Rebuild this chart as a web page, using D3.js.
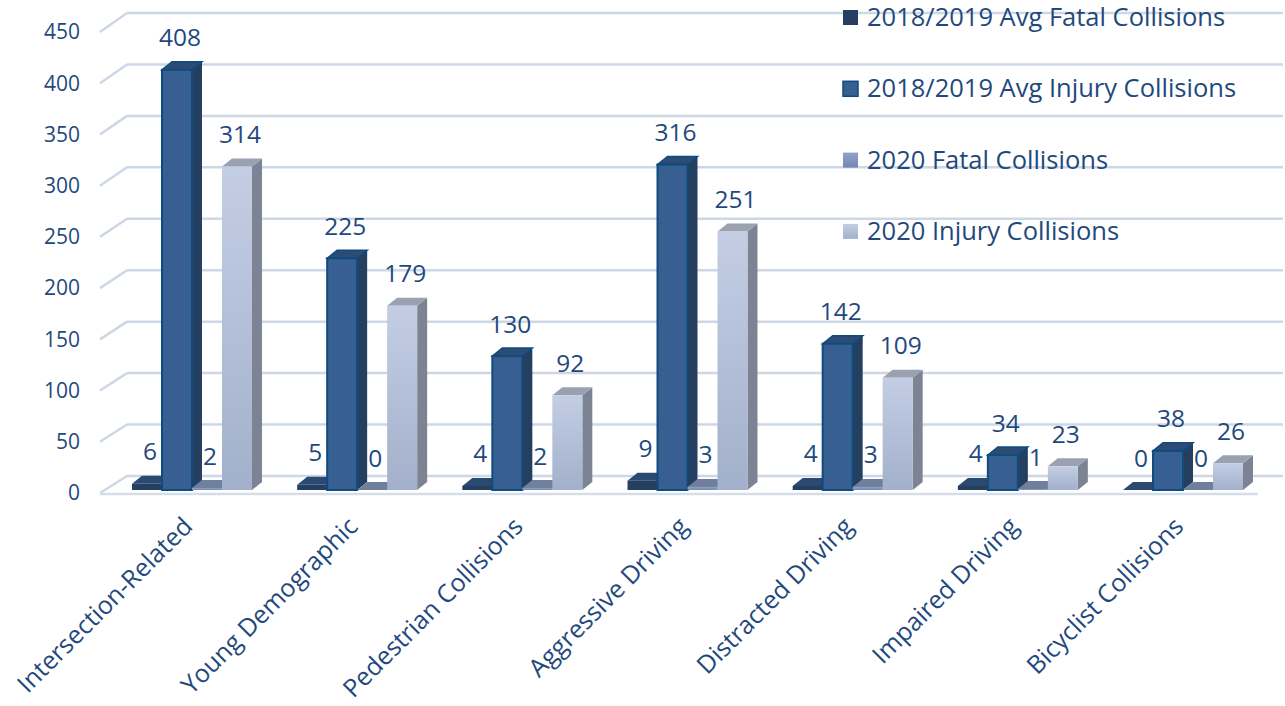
<!DOCTYPE html>
<html>
<head>
<meta charset="utf-8">
<title>Collisions</title>
<script src="https://d3js.org/d3.v7.min.js"></script>
<style>
  body { margin: 0; background: #fff; }
  text { font-family: "Open Sans", Lato, sans-serif; fill: #1f497d; }
</style>
</head>
<body>
<svg id="mainsvg" width="1285" height="706"></svg>
<script>
// ---------- data ----------
const categories = ["Intersection-Related", "Young Demographic", "Pedestrian Collisions",
  "Aggressive Driving", "Distracted Driving", "Impaired Driving", "Bicyclist Collisions"];
const seriesNames = ["2018/2019 Avg Fatal Collisions", "2018/2019 Avg Injury Collisions",
  "2020 Fatal Collisions", "2020 Injury Collisions"];
const avgFatal = [6, 5, 4, 9, 4, 4, 0];
const avgInjury = [408, 225, 130, 316, 142, 34, 38];
const fatal2020 = [2, 0, 2, 3, 3, 1, 0];
const injury2020 = [314, 179, 92, 251, 109, 23, 26];
const yTicks = [0, 50, 100, 150, 200, 250, 300, 350, 400, 450];

const seriesValues = [avgFatal, avgInjury, fatal2020, injury2020];

// ---------- setup ----------
const svg = d3.select("#mainsvg");
const defs = svg.append("defs");

// depth of the back wall and of each bar
const wallDx = 27;
const barDx = 10, barDy = -8;

const yFront = d3.scaleLinear().domain([0, 450]).range([493, 32]);
const yBack = d3.scaleLinear().domain([0, 450]).range([476, 13]);
const yBar = d3.scaleLinear().domain([0, 450]).range([490, 490 - 450 * 1.03]);

const x0 = d3.scaleBand().domain(categories).range([132, 1243]).paddingInner(0.2736).paddingOuter(0);
const x1 = d3.scaleBand().domain(seriesNames).range([0, x0.bandwidth()]).padding(0);

// styles per series
const styles = [
  {front: "#243f62", side: "#1c3150", top: "#2b4a72", stroke: "none"},
  {front: "#375f91", side: "#243f60", top: "#2c4c76", stroke: "#0f4b7c"},
  {front: "url(#gFatal20)", side: "#5d6e8c", top: "#6f7f9c", stroke: "none"},
  {front: "url(#gInjury20)", side: "#7c8494", top: "#9aa2b1", stroke: "none"}
];

function grad(id, c1, c2) {
  const g = defs.append("linearGradient").attr("id", id)
    .attr("x1", 0).attr("y1", 0).attr("x2", 0).attr("y2", 1);
  g.append("stop").attr("offset", "0%").attr("stop-color", c1);
  g.append("stop").attr("offset", "100%").attr("stop-color", c2);
}
grad("gFatal20", "#8ea3c9", "#7288b3");
grad("gInjury20", "#c3cee4", "#a3b0cb");

// ---------- back wall gridlines ----------
const grid = svg.append("g");
grid.selectAll("line.h").data(yTicks).join("line")
  .attr("x1", 100 + wallDx).attr("x2", 1283)
  .attr("y1", d => yBack(d)).attr("y2", d => yBack(d))
  .attr("stroke", "#cdd7e5").attr("stroke-width", 2.5);
grid.selectAll("line.d").data(yTicks).join("line")
  .attr("x1", 100).attr("y1", d => yFront(d))
  .attr("x2", 100 + wallDx).attr("y2", d => yBack(d))
  .attr("stroke", "#cdd7e5").attr("stroke-width", 2.5);
// floor front edge
grid.append("line")
  .attr("x1", 100).attr("x2", 1258)
  .attr("y1", yFront(0) + 1).attr("y2", yFront(0) + 1)
  .attr("stroke", "#d5dde9").attr("stroke-width", 2.5);

// y tick labels
svg.append("g").selectAll("text").data(yTicks).join("text")
  .attr("x", 80).attr("y", d => yFront(d))
  .attr("dy", "0.35em")
  .attr("text-anchor", "end")
  .attr("font-size", 21)
  .text(d => d);

// ---------- bars ----------
const bars = svg.append("g");
categories.forEach((cat, i) => {
  seriesNames.forEach((s, j) => {
    const v = seriesValues[j][i];
    const st = styles[j];
    const x = x0(cat) + x1(s);
    const w = x1.bandwidth();
    const yt = yBar(v), yb = yBar(0);
    const g = bars.append("g");
    // side face
    g.append("polygon")
      .attr("points", [[x + w, yt], [x + w + barDx, yt + barDy], [x + w + barDx, yb + barDy], [x + w, yb]].join(" "))
      .attr("fill", st.side);
    // top face
    g.append("polygon")
      .attr("points", [[x, yt], [x + barDx, yt + barDy], [x + w + barDx, yt + barDy], [x + w, yt]].join(" "))
      .attr("fill", st.top)
      .attr("stroke", st.stroke).attr("stroke-width", 1.5);
    // front face
    g.append("rect")
      .attr("x", x).attr("y", yt)
      .attr("width", w).attr("height", Math.max(0, yb - yt))
      .attr("fill", st.front)
      .attr("stroke", st.stroke).attr("stroke-width", 2);
  });
});

// data labels
const labels = svg.append("g");
categories.forEach((cat, i) => {
  seriesNames.forEach((s, j) => {
    const v = seriesValues[j][i];
    labels.append("text")
      .attr("x", x0(cat) + x1(s) + x1.bandwidth() / 2 + 3)
      .attr("y", yBar(v) - 32)
      .attr("dy", "0.35em")
      .attr("text-anchor", "middle")
      .attr("font-size", 24.5)
      .text(v);
  });
});

// category labels
svg.append("g").selectAll("text").data(categories).join("text")
  .attr("transform", d => `translate(${x0(d) + x0.bandwidth() / 2 + 2}, 528) rotate(-45)`)
  .attr("text-anchor", "end")
  .attr("font-size", 25)
  .text(d => d);

// ---------- legend ----------
const legend = svg.append("g");
const legendSwatch = ["#243f62", "#375f91", "url(#gFatal20)", "url(#gInjury20)"];
seriesNames.forEach((s, j) => {
  const y = 17 + j * 71.3;
  legend.append("rect")
    .attr("x", 843).attr("y", y - 7).attr("width", 15).attr("height", 15)
    .attr("fill", legendSwatch[j])
    .attr("stroke", j === 1 ? "#0f4b7c" : "none").attr("stroke-width", 1.5);
  legend.append("text")
    .attr("x", 867).attr("y", y)
    .attr("dy", "0.35em")
    .attr("font-size", 25.5)
    .text(s);
});
</script>
</body>
</html>
